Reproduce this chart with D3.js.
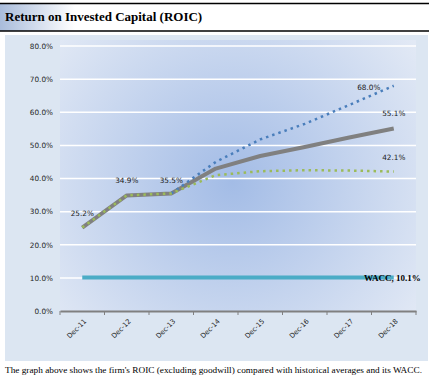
<!DOCTYPE html>
<html><head><meta charset="utf-8">
<script src="https://cdn.jsdelivr.net/npm/d3@7"></script>
<style>html,body{margin:0;padding:0;background:#fff;}svg{display:block;}</style>
</head><body>
<script>
const categories = ["Dec-11","Dec-12","Dec-13","Dec-14","Dec-15","Dec-16","Dec-17","Dec-18"];
const roic = [25.2, 34.9, 35.5, 43.0, 46.8, 49.5, 52.4, 55.1];
const roicHigh = [null, null, 35.5, 45.0, 51.8, 56.5, 62.2, 68.0];
const roicLow = [25.2, 34.9, 35.5, 41.0, 42.2, 42.5, 42.4, 42.1];
const wacc = 10.1;
const yTicks = [0,10,20,30,40,50,60,70,80];
const title = "Return on Invested Capital (ROIC)";
const footnote = "The graph above shows the firm's ROIC (excluding goodwill) compared with historical averages and its WACC.";

const W = 430, H = 378;
const svg = d3.select("body").append("svg").attr("width", W).attr("height", H);
const defs = svg.append("defs");
const tg = defs.append("linearGradient").attr("id","tg")
  .attr("gradientUnits","userSpaceOnUse").attr("x1",0).attr("x2",75).attr("y1",0).attr("y2",0);
tg.append("stop").attr("offset",0).attr("stop-color","#a9bcdb");
tg.append("stop").attr("offset",1).attr("stop-color","#ffffff");
const rg = defs.append("radialGradient").attr("id","rg").attr("gradientUnits","userSpaceOnUse")
  .attr("cx",232).attr("cy",182).attr("r",230);
rg.append("stop").attr("offset",0).attr("stop-color","#a3bce6");
rg.append("stop").attr("offset",1).attr("stop-color","#e2e9f5");

// title band
svg.append("rect").attr("x",0).attr("y",3).attr("width",W).attr("height",28).attr("fill","url(#tg)");
svg.append("line").attr("x1",0).attr("x2",429).attr("y1",3.5).attr("y2",3.5).attr("stroke","#000").attr("stroke-width",1.3);
svg.append("line").attr("x1",0).attr("x2",429).attr("y1",31).attr("y2",31).attr("stroke","#000").attr("stroke-width",1.5);
svg.append("text").attr("x",5).attr("y",21).text(title)
  .attr("font-family","Liberation Serif, Times New Roman, serif").attr("font-weight","bold").attr("font-size",13).attr("fill","#000");

// panel
svg.append("rect").attr("x",5).attr("y",35).attr("width",423).attr("height",326).attr("fill","#dce6f2");

const x = d3.scaleBand().domain(categories).range([60,416]);
const y = d3.scaleLinear().domain([0,80]).range([311,46]);
const cx = d => x(d) + x.bandwidth()/2;
const lf = "DejaVu Sans, Verdana, sans-serif";

svg.append("rect").attr("x",60).attr("y",40).attr("width",356).attr("height",271).attr("fill","url(#rg)");

// gridlines
svg.append("g").selectAll("line").data(yTicks.filter(t=>t>0)).join("line")
  .attr("x1",60).attr("x2",416).attr("y1",d=>y(d)).attr("y2",d=>y(d))
  .attr("stroke","#ffffff").attr("stroke-width",1.5);

// y axis labels
const yAxis = d3.axisLeft(y).tickValues(yTicks).tickFormat(d=>d.toFixed(1)+"%").tickSize(0).tickPadding(7);
const ya = svg.append("g").attr("transform","translate(60,0)").call(yAxis);
ya.select(".domain").remove();
ya.selectAll("text").attr("font-family",lf).attr("font-size",7.3).attr("fill","#262626");

// x axis
const xa = svg.append("g").attr("transform","translate(0,311)")
  .call(d3.axisBottom(x).tickSize(0).tickFormat(""));
xa.select(".domain").attr("stroke","#808080").attr("stroke-width",2);
const bounds = categories.map(c=>x(c)).concat([416]);
svg.append("g").selectAll("line").data(bounds).join("line")
  .attr("x1",d=>d).attr("x2",d=>d).attr("y1",311).attr("y2",315).attr("stroke","#808080").attr("stroke-width",1);
svg.append("g").selectAll("text").data(categories).join("text")
  .attr("transform",d=>`translate(${cx(d)+3},320) rotate(-45)`)
  .attr("text-anchor","end").attr("dy","0.35em")
  .attr("font-family",lf).attr("font-size",6.8).attr("fill","#262626")
  .text(d=>d);

// WACC line
svg.append("line").attr("x1",cx(categories[0])).attr("x2",cx(categories[7])).attr("y1",y(wacc)).attr("y2",y(wacc))
  .attr("stroke","#4bacc6").attr("stroke-width",4);

const line = d3.line().defined(d=>d.v!=null).x(d=>cx(d.c)).y(d=>y(d.v));
const toPts = arr => arr.map((v,i)=>({c:categories[i], v}));

svg.append("path").attr("d",line(toPts(roic))).attr("fill","none").attr("stroke","#808080").attr("stroke-width",4).attr("stroke-linejoin","round");
svg.append("path").attr("d",line(toPts(roicHigh))).attr("fill","none").attr("stroke","#4a7ebb").attr("stroke-width",2.5).attr("stroke-dasharray","2.5,4");
svg.append("path").attr("d",line(toPts(roicLow))).attr("fill","none").attr("stroke","#9bbb59").attr("stroke-width",2.5).attr("stroke-dasharray","2.5,4");

// data labels
const labels = [
  {c:categories[0], v:roic[0], dx:0, dy:-12},
  {c:categories[1], v:roic[1], dx:0, dy:-12},
  {c:categories[2], v:roic[2], dx:0, dy:-10},
  {c:categories[7], v:roicHigh[7], dx:-25, dy:4},
  {c:categories[7], v:roic[7], dx:0, dy:-12},
  {c:categories[7], v:roicLow[7], dx:0, dy:-12}
];
svg.append("g").selectAll("text").data(labels).join("text")
  .attr("x",d=>cx(d.c)+d.dx).attr("y",d=>y(d.v)+d.dy).attr("text-anchor","middle")
  .attr("font-family",lf).attr("font-size",7.3).attr("fill","#1a1a1a")
  .text(d=>d.v.toFixed(1)+"%");

svg.append("text").attr("x",364).attr("y",y(wacc)+3).text("WACC, " + wacc.toFixed(1) + "%")
  .attr("font-family","Liberation Serif, Times New Roman, serif").attr("font-weight","bold").attr("font-size",9).attr("fill","#000");

svg.append("text").attr("x",5).attr("y",373).text(footnote)
  .attr("font-family","Liberation Serif, Times New Roman, serif").attr("font-size",8).attr("fill","#000")
  .attr("textLength",417).attr("lengthAdjust","spacingAndGlyphs");
</script>
</body></html>
